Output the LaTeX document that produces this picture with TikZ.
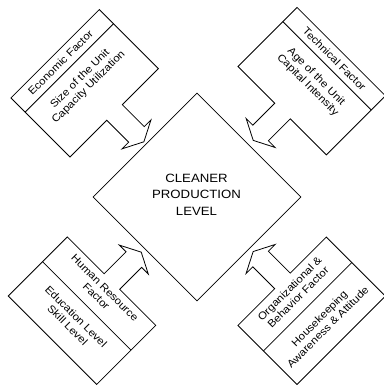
\documentclass[tikz,border=0pt]{standalone}
\usepackage{fontspec}
\setmainfont{Liberation Sans}
\newfontfamily\boxfont[FakeStretch=1.1]{Liberation Sans}
\usetikzlibrary{shapes.geometric}
\tikzset{
  outline/.style={draw=black, line width=0.8pt, line join=miter},
  divider/.style={draw=black, line width=0.8pt},
  boxtext/.style={font=\boxfont\fontsize{10.5}{12}\selectfont, align=center, inner sep=0pt},
  centertext/.style={font=\boxfont\fontsize{12}{16.5}\selectfont, align=center, inner sep=0pt},
  centerdiamond/.style={diamond, draw=black, line width=0.8pt, minimum width=208pt, minimum height=208pt, inner sep=0pt},
}
\begin{document}
\begin{tikzpicture}[x=1pt,y=1pt]
\fill[white] (0,0) rectangle (383,385);
\useasboundingbox (0,0) rectangle (383,385);

% central diamond
\node[centerdiamond] (cpl) at (197,188) {};
\node[centertext] (cpltext) at (196.5,190.5) {CLEANER\\PRODUCTION\\LEVEL};

% top-left unit
\begin{scope}[shift={(70,228)}, rotate=45]
  \draw[outline] (0,0) -- (52,0) -- (52,-31) -- (42.5,-31) -- (63,-41.5) -- (83.5,-31) -- (74,-31) -- (74,0) -- (125,0) -- (125,83.5) -- (0,83.5) -- cycle;
  \draw[divider] (0,63.5) -- (125,63.5);
  \node[boxtext, rotate=45] (econ) at (60,73.5) {Economic Factor};
  \node[boxtext, rotate=45] (econbody) at (62.5,42) {Size of the Unit\\Capacity Utilization};
\end{scope}

% top-right unit
\begin{scope}[shift={(238,318.5)}, rotate=-45]
  \draw[outline] (0,0) -- (52,0) -- (52,-31) -- (42.5,-31) -- (63,-41.5) -- (83.5,-31) -- (74,-31) -- (74,0) -- (125,0) -- (125,83.5) -- (0,83.5) -- cycle;
  \draw[divider] (0,63.5) -- (125,63.5);
  \node[boxtext, rotate=-45] (tech) at (63,73.5) {Technical Factor};
  \node[boxtext, rotate=-45] (techbody) at (62.5,42) {Age of the Unit\\Capital Intensity};
\end{scope}

% bottom-left unit
\begin{scope}[shift={(8.3,89)}, rotate=-45]
  \draw[outline] (0,0) -- (125,0) -- (125,83.5) -- (74,83.5) -- (74,114.5) -- (83.5,114.5) -- (63,125) -- (42.5,114.5) -- (52,114.5) -- (52,83.5) -- (0,83.5) -- cycle;
  \draw[divider] (0,48.5) -- (125,48.5);
  \node[boxtext, rotate=-45] (human) at (62.5,68) {Human Resource\\Factor};
  \node[boxtext, rotate=-45] (humanbody) at (62.5,27.5) {Education Level\\Skill Level};
\end{scope}

% bottom-right unit
\begin{scope}[shift={(297,0.5)}, rotate=45]
  \draw[outline] (0,0) -- (125,0) -- (125,83.5) -- (74,83.5) -- (74,114.5) -- (83.5,114.5) -- (63,125) -- (42.5,114.5) -- (52,114.5) -- (52,83.5) -- (0,83.5) -- cycle;
  \draw[divider] (0,47.5) -- (125,47.5);
  \node[boxtext, rotate=45] (org) at (62.5,67) {Organizational \&\\Behavior Factor};
  \node[boxtext, rotate=45] (orgbody) at (62.5,25) {Housekeeping\\Awareness \& Attitude};
\end{scope}
\end{tikzpicture}
\end{document}
